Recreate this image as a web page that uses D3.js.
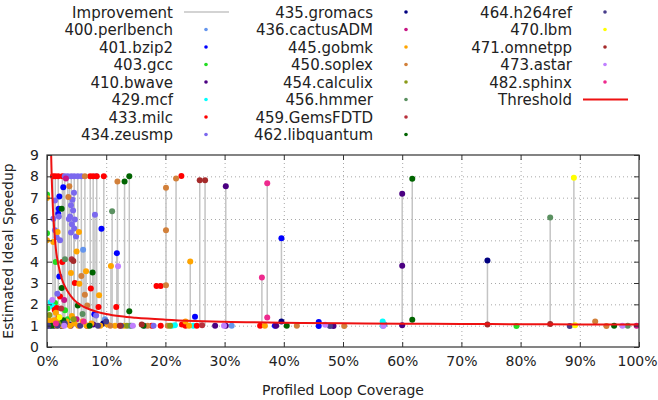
<!DOCTYPE html>
<html>
<head>
<meta charset="utf-8">
<script src="https://cdn.jsdelivr.net/npm/d3@7"></script>
<style>
  body { margin: 0; background: #fff; }
  svg { font-family: "DejaVu Sans", sans-serif; }
</style>
</head>
<body>
<svg id="chart"></svg>
<script>
// benchmark names, in legend order
let benchmarks = ['400.perlbench', '401.bzip2', '403.gcc', '410.bwave', '429.mcf', '433.milc', '434.zeusmp',
                  '435.gromacs', '436.cactusADM', '445.gobmk', '450.soplex', '454.calculix', '456.hmmer',
                  '459.GemsFDTD', '462.libquantum', '464.h264ref', '470.lbm', '471.omnetpp', '473.astar', '482.sphinx'];

let colors = ['#6495ed', '#0000ff', '#22dd22', '#4b0082', '#00ffff', '#ff0000', '#7b68ee',
              '#000080', '#c71585', '#ffa500', '#d2803a', '#8a9a18', '#5a9060',
              '#b8303c', '#006400', '#483d8b', '#ffff00', '#a52a2a', '#c080ff', '#ee2a8e'];

// [coverage %, estimated ideal speedup]
let perlbench = [[8.3, 8.0], [6.1, 4.56], [31.2, 1.0], [2.4, 1.1], [14.0, 1.0], [57.0, 1.05], [9.8, 1.3]];
let bzip2 = [[2.75, 7.49], [2.08, 7.06], [1.97, 6.48], [1.9, 6.25], [2.08, 3.31], [9.2, 5.54], [11.8, 4.4],
             [8.0, 1.53], [25.0, 1.42], [39.6, 5.1], [45.9, 1.17], [45.9, 0.98], [38.5, 1.0], [1.2, 1.15]];
let gcc = [[0, 7.15], [0, 5.33], [0.1, 1.8], [1.47, 3.98], [1.35, 2.06], [3.04, 1.72], [79.3, 0.98], [3.5, 1.3]];
let bwave = [[60, 7.18], [60, 3.81], [60, 1.02], [30.2, 7.54], [28.4, 1.0], [30.2, 1.0], [38.7, 1.0],
             [48.4, 0.98], [4.0, 1.0], [0.5, 1.0], [7.8, 1.05]];
let mcf = [[0.62, 2.1], [21.1, 1.0], [21.6, 1.02], [24.7, 1.0], [56.7, 1.19], [56.7, 1.0], [1.0, 1.9]];
let milc = [[1.0, 8.0], [1.4, 8.0], [1.9, 8.0], [2.6, 8.0], [7.3, 8.0], [7.8, 8.0], [8.4, 8.0], [9.6, 8.0],
            [18.5, 2.86], [19.2, 2.86], [22.7, 8.01], [2.58, 3.98], [4.7, 3.0], [7.4, 2.74], [2.2, 2.37],
            [1.64, 1.83], [8.7, 1.87], [11.7, 1.87], [1.97, 1.4], [17.7, 1.0], [19.2, 1.0], [23.4, 1.0],
            [25.3, 1.0], [36.0, 1.0], [22.8, 1.05], [1.3, 1.75]];
let zeusmp = [[3.0, 8.0], [3.5, 8.0], [4.1, 8.0], [4.6, 8.0], [5.2, 8.0], [5.8, 8.0], [4.56, 7.23], [1.35, 6.87],
              [4.05, 6.64], [4.4, 6.4], [3.9, 6.12], [4.7, 5.98], [4.2, 5.75], [4.6, 5.56], [4.05, 5.37],
              [4.9, 5.18], [2.0, 6.12], [1.07, 6.01], [1.35, 5.47], [2.2, 5.0], [1.64, 5.15], [8.1, 6.2],
              [1.75, 2.5], [8.3, 1.48], [0.8, 1.2], [16.5, 1.0], [18.0, 1.0], [4.3, 6.9], [3.7, 6.0]];
let gromacs = [[74.4, 4.05], [0.0, 1.0], [1.2, 1.0], [3.8, 1.05], [2.5, 0.98], [6.8, 1.0], [9.5, 1.1], [39.6, 1.19]];
let cactusADM = [[3.2, 7.9], [99.6, 1.0], [5.0, 1.3], [2.9, 2.2]];
let gobmk = [[0, 6.98], [0, 5.0], [1.07, 4.92], [1.8, 5.39], [5.4, 5.39], [5.0, 4.48], [4.05, 3.47], [6.6, 3.55],
             [5.46, 2.97], [8.8, 2.42], [10.8, 3.8], [24.2, 4.01], [23.4, 1.2], [36.8, 1.0], [0.3, 1.3],
             [0.6, 1.1], [1.2, 1.25], [1.6, 1.0], [2.0, 1.15], [2.6, 1.0], [3.3, 1.2], [3.9, 1.0], [4.6, 1.1],
             [5.3, 1.0], [6.0, 1.2], [6.7, 1.0], [7.5, 1.1], [9.0, 1.0], [10.2, 1.05], [11.5, 1.0], [13.0, 1.0],
             [24.0, 1.0], [1.5, 1.6], [4.2, 1.45], [0.2, 1.05]];
let soplex = [[6.4, 8.0], [3.77, 7.54], [3.6, 7.03], [5.8, 3.33], [6.4, 2.45], [6.8, 1.94], [11.9, 7.76],
              [20.1, 7.47], [20.1, 5.47], [20.1, 2.9], [21.8, 7.9], [42.2, 1.0], [50.2, 0.98], [92.6, 1.19],
              [94.5, 0.98], [10.7, 1.0], [20.4, 1.0], [17.0, 1.0]];
let calculix = [[0.4, 1.5], [2.3, 1.1], [4.5, 1.3], [13.5, 1.0], [20.8, 1.0]];
let hmmer = [[3.04, 4.11], [11.0, 6.36], [85.0, 6.07], [98.1, 1.0], [6.0, 1.55], [14.2, 1.0]];
let GemsFDTD = [[4.17, 4.11], [2.4, 1.8], [26.2, 1.02]];
let libquantum = [[13.1, 7.76], [13.9, 8.0], [2.48, 6.48], [7.7, 3.49], [2.48, 2.76], [5.2, 1.95], [13.9, 1.67],
                  [2.75, 1.25], [61.7, 7.89], [61.7, 1.28], [40.5, 1.0], [95.8, 1.0], [7.2, 1.0], [0.8, 1.0],
                  [16.3, 1.0]];
let h264ref = [[47.8, 0.98], [88.3, 0.98], [0.2, 1.0], [1.8, 1.0], [3.0, 1.1], [5.6, 1.0], [8.6, 1.0],
               [12.5, 1.0], [10.0, 1.2]];
let lbm = [[89.0, 7.93], [89.2, 1.02], [2.1, 1.4]];
let omnetpp = [[25.8, 7.82], [26.7, 7.82], [4.45, 4.03], [85.0, 1.08], [74.4, 1.05], [12.3, 1.0], [16.0, 1.05]];
let astar = [[47.0, 1.04], [56.8, 0.98], [97.2, 1.0], [29.9, 1.0], [12.0, 3.78], [0.9, 2.2], [2.9, 1.0], [14.5, 1.0]];
let sphinx = [[37.2, 7.67], [37.2, 1.38], [36.3, 3.26], [6.2, 1.2], [1.5, 1.1]];

let series = [perlbench, bzip2, gcc, bwave, mcf, milc, zeusmp, gromacs, cactusADM, gobmk, soplex,
              calculix, hmmer, GemsFDTD, libquantum, h264ref, lbm, omnetpp, astar, sphinx];

// improvement bars: [coverage %, from, to]
let improvements = [[1.0, 1, 8], [1.4, 1, 8], [1.9, 1, 8], [2.6, 1, 8], [3.0, 1, 8], [3.5, 1, 8], [4.1, 1, 8],
                    [4.6, 1, 8], [5.2, 1, 8], [5.8, 1, 8], [6.4, 1, 8], [7.3, 1, 8], [7.8, 1, 8], [8.4, 1, 8],
                    [9.6, 1, 8], [2.75, 1, 7.49], [3.77, 1, 7.54], [1.35, 1, 6.87], [4.56, 1, 7.23],
                    [8.1, 1, 6.2], [9.2, 1, 5.54], [11.0, 1, 6.36], [11.8, 1, 4.4], [12.0, 1, 3.78],
                    [10.8, 1, 3.8], [11.9, 1, 7.76], [13.1, 1, 7.76], [13.9, 1, 8.0], [6.1, 1, 4.56],
                    [6.6, 1, 3.55], [7.7, 1, 3.49], [20.1, 1, 7.47], [21.8, 1, 7.9], [24.2, 1, 4.01],
                    [25.8, 1, 7.82], [26.7, 1, 7.82], [30.2, 1, 7.54], [36.3, 1, 3.26], [37.2, 1.38, 7.67],
                    [39.6, 1.19, 5.1], [60.0, 1.02, 7.18], [61.7, 1.28, 7.89], [74.4, 1.05, 4.05],
                    [85.0, 1.08, 6.07], [89.0, 1.02, 7.93]];

// threshold curve: [coverage %, speedup]
let threshold = [[0.62, 9.9], [0.8, 7.9], [1, 6.5], [1.25, 5.4], [1.5, 4.6], [2, 3.75], [2.5, 3.2], [3, 2.85],
                 [4, 2.4], [5, 2.1], [6, 1.92], [8, 1.69], [10, 1.55], [12.5, 1.44], [15, 1.37], [20, 1.28],
                 [25, 1.22], [30, 1.18], [40, 1.14], [50, 1.11], [60, 1.09], [70, 1.08], [80, 1.07],
                 [90, 1.06], [100, 1.055]];

let xTicks = [0, 10, 20, 30, 40, 50, 60, 70, 80, 90, 100];
let yTicks = [0, 1, 2, 3, 4, 5, 6, 7, 8, 9];

let width = 658;
let height = 400;
let plotLeft = 47, plotRight = 639, plotTop = 155, plotBottom = 347;

let svg = d3.select('#chart').attr('width', width).attr('height', height);

let xScale = d3.scaleLinear().domain([0, 100]).range([plotLeft, plotRight]);
let yScale = d3.scaleLinear().domain([0, 9]).range([plotBottom, plotTop]);

svg.append('clipPath').attr('id', 'clip')
   .append('rect').attr('x', plotLeft).attr('y', plotTop)
   .attr('width', plotRight - plotLeft).attr('height', plotBottom - plotTop);

// grid
let grid = svg.append('g').attr('stroke', '#a8a8a8').attr('stroke-width', 1).attr('stroke-dasharray', '1,3');
grid.selectAll('.gx').data(xTicks.slice(1, -1)).enter().append('line')
    .attr('x1', d => xScale(d) + 0.5).attr('x2', d => xScale(d) + 0.5)
    .attr('y1', plotTop).attr('y2', plotBottom);
grid.selectAll('.gy').data(yTicks.slice(1, -1)).enter().append('line')
    .attr('y1', d => yScale(d) + 0.5).attr('y2', d => yScale(d) + 0.5)
    .attr('x1', plotLeft).attr('x2', plotRight);

let plot = svg.append('g').attr('clip-path', 'url(#clip)');

// improvement lines
plot.selectAll('.imp').data(improvements).enter().append('line')
    .attr('x1', d => xScale(d[0])).attr('x2', d => xScale(d[0]))
    .attr('y1', d => yScale(d[1])).attr('y2', d => yScale(d[2]))
    .attr('stroke', '#c4c4c4').attr('stroke-width', 1.5);

// points
series.forEach((pts, i) => {
  plot.append('g').selectAll('circle').data(pts).enter().append('circle')
      .attr('cx', d => xScale(d[0])).attr('cy', d => yScale(d[1]))
      .attr('r', 3).attr('fill', colors[i]);
});

// threshold
plot.append('path').datum(threshold)
    .attr('d', d3.line().x(d => xScale(d[0])).y(d => yScale(d[1])).curve(d3.curveMonotoneX))
    .attr('fill', 'none').attr('stroke', '#ee1111').attr('stroke-width', 2);

// axes, ticks pointing inward on all four sides
let xAxis = d3.axisBottom(xScale).tickValues(xTicks).tickFormat(d => d + '%').tickSizeInner(-5).tickSizeOuter(0).tickPadding(9);
let yAxis = d3.axisLeft(yScale).tickValues(yTicks).tickSizeInner(-5).tickSizeOuter(0).tickPadding(8);
let xTop = d3.axisTop(xScale).tickValues(xTicks).tickFormat('').tickSizeInner(-5).tickSizeOuter(0);
let yRight = d3.axisRight(yScale).tickValues(yTicks).tickFormat('').tickSizeInner(-5).tickSizeOuter(0);

let gx = svg.append('g').attr('transform', 'translate(0,' + plotBottom + ')').call(xAxis);
svg.append('g').attr('transform', 'translate(' + plotLeft + ',0)').call(yAxis);
svg.append('g').attr('transform', 'translate(0,' + plotTop + ')').call(xTop);
svg.append('g').attr('transform', 'translate(' + plotRight + ',0)').call(yRight);
svg.selectAll('.domain').remove();
svg.selectAll('.tick line').attr('stroke', '#333');
svg.selectAll('.tick text').attr('font-size', 14).attr('font-family', 'DejaVu Sans').attr('fill', '#222');
// keep the last label inside the window
gx.selectAll('.tick text').filter(d => d === 100).attr('dx', -2);

svg.append('rect').attr('x', plotLeft).attr('y', plotTop)
   .attr('width', plotRight - plotLeft).attr('height', plotBottom - plotTop)
   .attr('fill', 'none').attr('stroke', '#333').attr('stroke-width', 1.2);

// axis titles
svg.append('text').attr('x', (plotLeft + plotRight) / 2).attr('y', 395).attr('text-anchor', 'middle')
   .attr('font-size', 14).attr('fill', '#222').text('Profiled Loop Coverage');
svg.append('text').attr('transform', 'translate(13,' + ((plotTop + plotBottom) / 2) + ') rotate(-90)')
   .attr('text-anchor', 'middle').attr('font-size', 14).attr('fill', '#222').text('Estimated Ideal Speedup');

// legend
let legendItems = [{ name: 'Improvement', type: 'gray' }]
  .concat(benchmarks.map((b, i) => ({ name: b, type: 'dot', color: colors[i] })))
  .concat([{ name: 'Threshold', type: 'red' }]);
let colText = [173, 373, 572];
let colSym = [206, 406, 605];
let legend = svg.append('g');
legendItems.forEach((item, i) => {
  let col = Math.floor(i / 8), row = i % 8;
  let cy = 12 + row * 17.5;
  legend.append('text').attr('x', colText[col]).attr('y', cy + 5.5).attr('text-anchor', 'end')
        .attr('font-size', 15).attr('fill', '#222').text(item.name);
  if (item.type === 'dot') {
    legend.append('circle').attr('cx', colSym[col]).attr('cy', cy).attr('r', 1.8).attr('fill', item.color);
  } else {
    legend.append('line').attr('x1', colSym[col] - 22).attr('x2', colSym[col] + 23).attr('y1', cy).attr('y2', cy)
          .attr('stroke', item.type === 'gray' ? '#c4c4c4' : '#ee1111').attr('stroke-width', item.type === 'gray' ? 1.5 : 2);
  }
});
</script>
</body>
</html>
